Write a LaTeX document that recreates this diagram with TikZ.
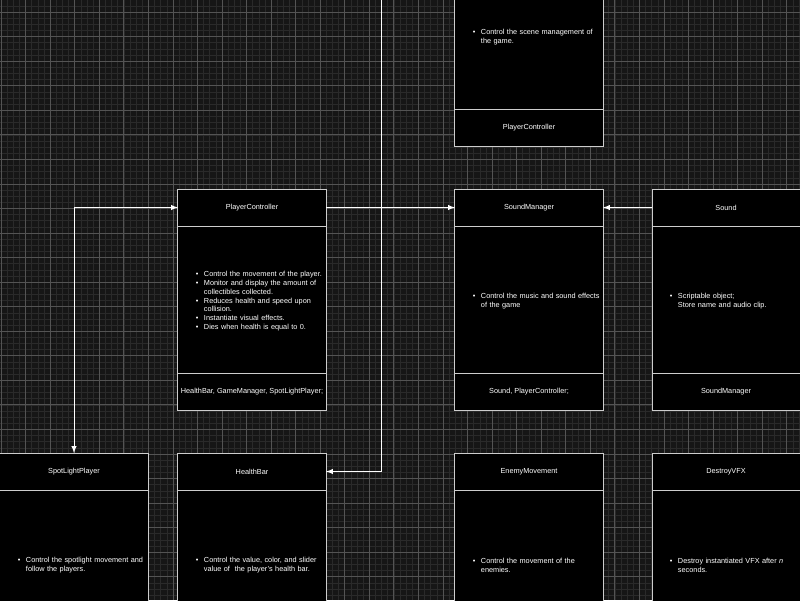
\documentclass[tikz,border=0pt]{standalone}
\usepackage{fontspec}
\setmainfont{Liberation Sans}
\usetikzlibrary{positioning, arrows}
\definecolor{canvas}{RGB}{22,22,22}
\definecolor{minorgrid}{RGB}{42,42,42}
\definecolor{majorgrid}{RGB}{84,84,84}
\definecolor{boxline}{RGB}{205,205,205}
\newcommand\classfont{\fontsize{5.2pt}{6.2pt}\selectfont}
\newcommand\bitem[1]{\par\leftskip=0.65cm\noindent\llap{\textbullet\hspace{0.14cm}}#1\par}
\tikzset{
    classtitle/.style = {
        rectangle, draw=boxline, fill=black,
        line width=0.7pt, inner sep=0pt, outer sep=0pt,
        minimum width=3.7cm,
        minimum height=0.925cm,
        text=white, font=\classfont,
        align=center
    },
    classbody/.style = {
        classtitle,
        minimum height=3.675cm,
        text width=3.7cm,
        align=left
    },
    classfoot/.style = {
        classtitle
    },
    minorline/.style = {
        draw=minorgrid, line width=0.3pt
    },
    majorline/.style = {
        draw=majorgrid, line width=0.5pt
    },
    arrow/.style = {
        ->, >=latex, draw=white, line width=0.7pt
    }
}

\begin{document}
\begin{tikzpicture}[x=0.025cm, y=-0.025cm]

\useasboundingbox (0,0) rectangle (800,600);
\clip (0,0) rectangle (800,600);
\fill[canvas] (0,0) rectangle (800,600);

% grid
\foreach \i in {0,...,130} \draw[minorline] ({1+6.1375*\i},0) -- ++(0,600);
\foreach \j in {-1,...,96} \draw[minorline] (0,{12+6.1375*\j}) -- ++(800,0);
\foreach \i in {0,...,32} \draw[majorline] ({1+24.55*\i},0) -- ++(0,600);
\foreach \j in {0,...,24} \draw[majorline] (0,{12+24.55*\j}) -- ++(800,0);

% top box
\node (gamefoot) [classfoot] at (529,127.5) {PlayerController};
\node (gamebody) [classbody, above=0pt of gamefoot] {\bitem{Control the scene management of\newline the game.}};

% middle row
\node (player) [classtitle] at (252,207.5) {PlayerController};
\node (playerbody) [classbody, below=0pt of player] {%
    \bitem{Control the movement of the player.}
    \bitem{Monitor and display the amount of\newline collectibles collected.}
    \bitem{Reduces health and speed upon\newline collision.}
    \bitem{Instantiate visual effects.}
    \bitem{Dies when health is equal to 0.}};
\node (playerfoot) [classfoot, below=0pt of playerbody] {HealthBar, GameManager, SpotLightPlayer;};

\node (soundmgr) [classtitle] at (529,207.5) {SoundManager};
\node (soundmgrbody) [classbody, below=0pt of soundmgr] {\bitem{Control the music and sound effects\newline of the game}};
\node (soundmgrfoot) [classfoot, below=0pt of soundmgrbody] {Sound, PlayerController;};

\node (sound) [classtitle] at (726,207.5) {Sound};
\node (soundbody) [classbody, below=0pt of sound] {\bitem{Scriptable object;\newline Store name and audio clip.}};
\node (soundfoot) [classfoot, below=0pt of soundbody] {SoundManager};

% bottom row
\node (spot) [classtitle] at (74,471.5) {SpotLightPlayer};
\node (spotbody) [classbody, below=0pt of spot] {\bitem{Control the spotlight movement and\newline follow the players.}};

\node (health) [classtitle] at (252,471.5) {HealthBar};
\node (healthbody) [classbody, below=0pt of health] {\bitem{Control the value, color, and slider\newline value of~ the player's health bar.}};

\node (enemy) [classtitle] at (529,471.5) {EnemyMovement};
\node (enemybody) [classbody, below=0pt of enemy] {\bitem{Control the movement of the\newline enemies.}};

\node (vfx) [classtitle] at (726,471.5) {DestroyVFX};
\node (vfxbody) [classbody, below=0pt of vfx] {\bitem{Destroy instantiated VFX after \textit{n}\newline seconds.}};

% connectors
\coordinate (gamelink) at (381,-20);
\draw [arrow] (player) -- (soundmgr);
\draw [arrow] (sound) -- (soundmgr);
\draw [arrow, <->] (spot.north) |- (player.west);
\draw [arrow] (gamelink) |- (health.east);

\end{tikzpicture}
\end{document}
